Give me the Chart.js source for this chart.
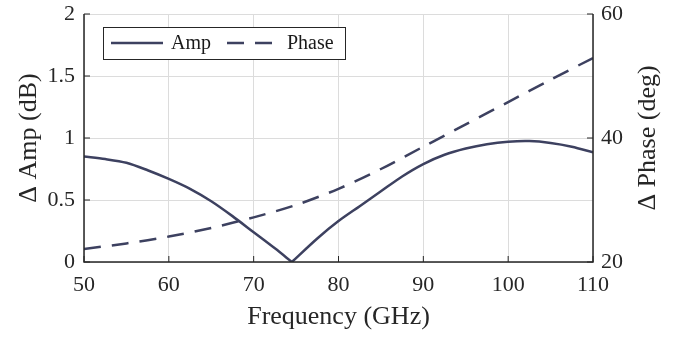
<!DOCTYPE html>
<html>
<head>
<meta charset="utf-8">
<script src="https://cdn.jsdelivr.net/npm/chart.js@4"></script>
<style>
  html, body { margin: 0; padding: 0; background: #fff; }
  #wrap { width: 683px; height: 337px; }
</style>
</head>
<body>
<div id="wrap"><canvas id="chart1"></canvas></div>
<script>
// amp minimum listed twice so the spline keeps a sharp corner there
const ampFreq = [50, 52.5, 55, 57.5, 60, 62.5, 65, 67.5, 70, 72.5, 74.5, 74.5, 77.5, 80,
  82.5, 85, 87.5, 90, 92.5, 95, 97.5, 100, 102.5, 105, 107.5, 110];
const amp = [0.85, 0.83, 0.80, 0.74, 0.67, 0.59, 0.49, 0.37, 0.24, 0.11, 0.0, 0.0, 0.19, 0.33,
  0.45, 0.57, 0.69, 0.79, 0.865, 0.915, 0.95, 0.97, 0.975, 0.96, 0.93, 0.885];
const phaseFreq = [50, 55, 60, 65, 70, 75, 80, 85, 90, 95, 100, 105, 110];
const phase = [22.1, 23.0, 24.1, 25.5, 27.2, 29.2, 31.8, 35.0, 38.6, 42.2, 45.8, 49.4, 52.9];
const xTicks = [50, 60, 70, 80, 90, 100, 110];
const ampTicks = [0, 0.5, 1, 1.5, 2];
const phaseTicks = [20, 40, 60];

const lineColor = "#3d4160";
const serif = "'Liberation Serif', 'Times New Roman', serif";

function pts(xs, ys) {
  return xs.map((x, i) => ({ x: x, y: ys[i] }));
}

// MATLAB-like axes: black lines, inward ticks, boxed legend, right title
const axesPlugin = {
  id: "axesPlugin",
  afterDraw(chart) {
    const ctx = chart.ctx;
    const a = chart.chartArea;
    const sx = chart.scales.x, sy = chart.scales.y, sy2 = chart.scales.y2;
    ctx.save();
    ctx.strokeStyle = "#262626";
    ctx.lineWidth = 1.5;
    ctx.beginPath();
    ctx.moveTo(a.left, a.top); ctx.lineTo(a.left, a.bottom);
    ctx.lineTo(a.right, a.bottom); ctx.lineTo(a.right, a.top);
    ctx.stroke();
    ctx.lineWidth = 1;
    ctx.beginPath();
    xTicks.forEach(v => {
      const p = sx.getPixelForValue(v);
      ctx.moveTo(p, a.bottom); ctx.lineTo(p, a.bottom - 6);
    });
    ampTicks.forEach(v => {
      const p = sy.getPixelForValue(v);
      ctx.moveTo(a.left, p); ctx.lineTo(a.left + 6, p);
    });
    phaseTicks.forEach(v => {
      const p = sy2.getPixelForValue(v);
      ctx.moveTo(a.right, p); ctx.lineTo(a.right - 6, p);
    });
    ctx.stroke();

    // right axis title, reading bottom to top
    ctx.fillStyle = "#262626";
    ctx.font = "26px " + serif;
    ctx.textAlign = "center";
    ctx.textBaseline = "middle";
    ctx.translate(648, (a.top + a.bottom) / 2);
    ctx.rotate(-Math.PI / 2);
    ctx.fillText("\u0394 Phase (deg)", 0, 0);
    ctx.restore();

    // legend box
    ctx.save();
    const bx = a.left + 19, by = a.top + 13, bw = 242, bh = 32;
    ctx.fillStyle = "#fff";
    ctx.fillRect(bx, by, bw, bh);
    ctx.strokeStyle = "#262626";
    ctx.lineWidth = 1;
    ctx.strokeRect(bx + 0.5, by + 0.5, bw, bh);
    const cy = by + bh / 2;
    ctx.font = "20px " + serif;
    ctx.textBaseline = "middle";
    ctx.fillStyle = "#1a1a1a";
    let x = bx + 8;
    chart.data.datasets.forEach(ds => {
      ctx.strokeStyle = ds.borderColor;
      ctx.lineWidth = ds.borderWidth;
      ctx.setLineDash(ds.borderDash || []);
      ctx.beginPath();
      ctx.moveTo(x, cy); ctx.lineTo(x + 52, cy);
      ctx.stroke();
      ctx.setLineDash([]);
      ctx.fillText(ds.label, x + 60, cy + 1);
      x += 60 + ctx.measureText(ds.label).width + 16;
    });
    ctx.restore();
  }
};

function noPad(s) { s.paddingTop = 0; s.paddingBottom = 0; }

const ctx = document.getElementById("chart1").getContext("2d");
const chart = new Chart(ctx, {
  type: "line",
  data: {
    datasets: [{
      label: "Amp",
      data: pts(ampFreq, amp),
      yAxisID: "y",
      borderColor: lineColor,
      borderWidth: 2.5,
      pointRadius: 0,
      tension: 0.3
    }, {
      label: "Phase",
      data: pts(phaseFreq, phase),
      yAxisID: "y2",
      borderColor: lineColor,
      borderWidth: 2.5,
      borderDash: [17, 11],
      pointRadius: 0,
      tension: 0.3
    }]
  },
  options: {
    responsive: true,
    maintainAspectRatio: false,
    animation: false,
    layout: { padding: { top: 14 } },
    plugins: { legend: { display: false }, tooltip: { enabled: false } },
    scales: {
      x: {
        type: "linear",
        min: 50, max: 110,
        afterBuildTicks: s => { s.ticks = xTicks.map(v => ({ value: v })); },
        afterFit: s => { s.height = 75; },
        grid: { color: "#dcdcdc", drawTicks: false },
        border: { display: false },
        ticks: { color: "#262626", padding: 10, font: { family: serif, size: 22 } },
        title: { display: true, text: "Frequency (GHz)", color: "#262626",
          padding: { bottom: 4 }, font: { family: serif, size: 26 } }
      },
      y: {
        position: "left",
        min: 0, max: 2,
        afterBuildTicks: s => { s.ticks = ampTicks.map(v => ({ value: v })); },
        afterFit: s => { s.width = 84; noPad(s); },
        grid: { color: "#dcdcdc", drawTicks: false },
        border: { display: false },
        ticks: { color: "#262626", padding: 9, font: { family: serif, size: 22 },
          callback: v => String(v) },
        title: { display: true, text: "\u0394 Amp (dB)", color: "#262626",
          padding: { top: 14 }, font: { family: serif, size: 26 } }
      },
      y2: {
        position: "right",
        min: 20, max: 60,
        afterBuildTicks: s => { s.ticks = phaseTicks.map(v => ({ value: v })); },
        afterFit: s => { s.width = 90; noPad(s); },
        grid: { display: false, drawTicks: false },
        border: { display: false },
        ticks: { color: "#262626", padding: 8, font: { family: serif, size: 22 },
          callback: v => String(v) }
      }
    }
  },
  plugins: [axesPlugin]
});
</script>
</body>
</html>
